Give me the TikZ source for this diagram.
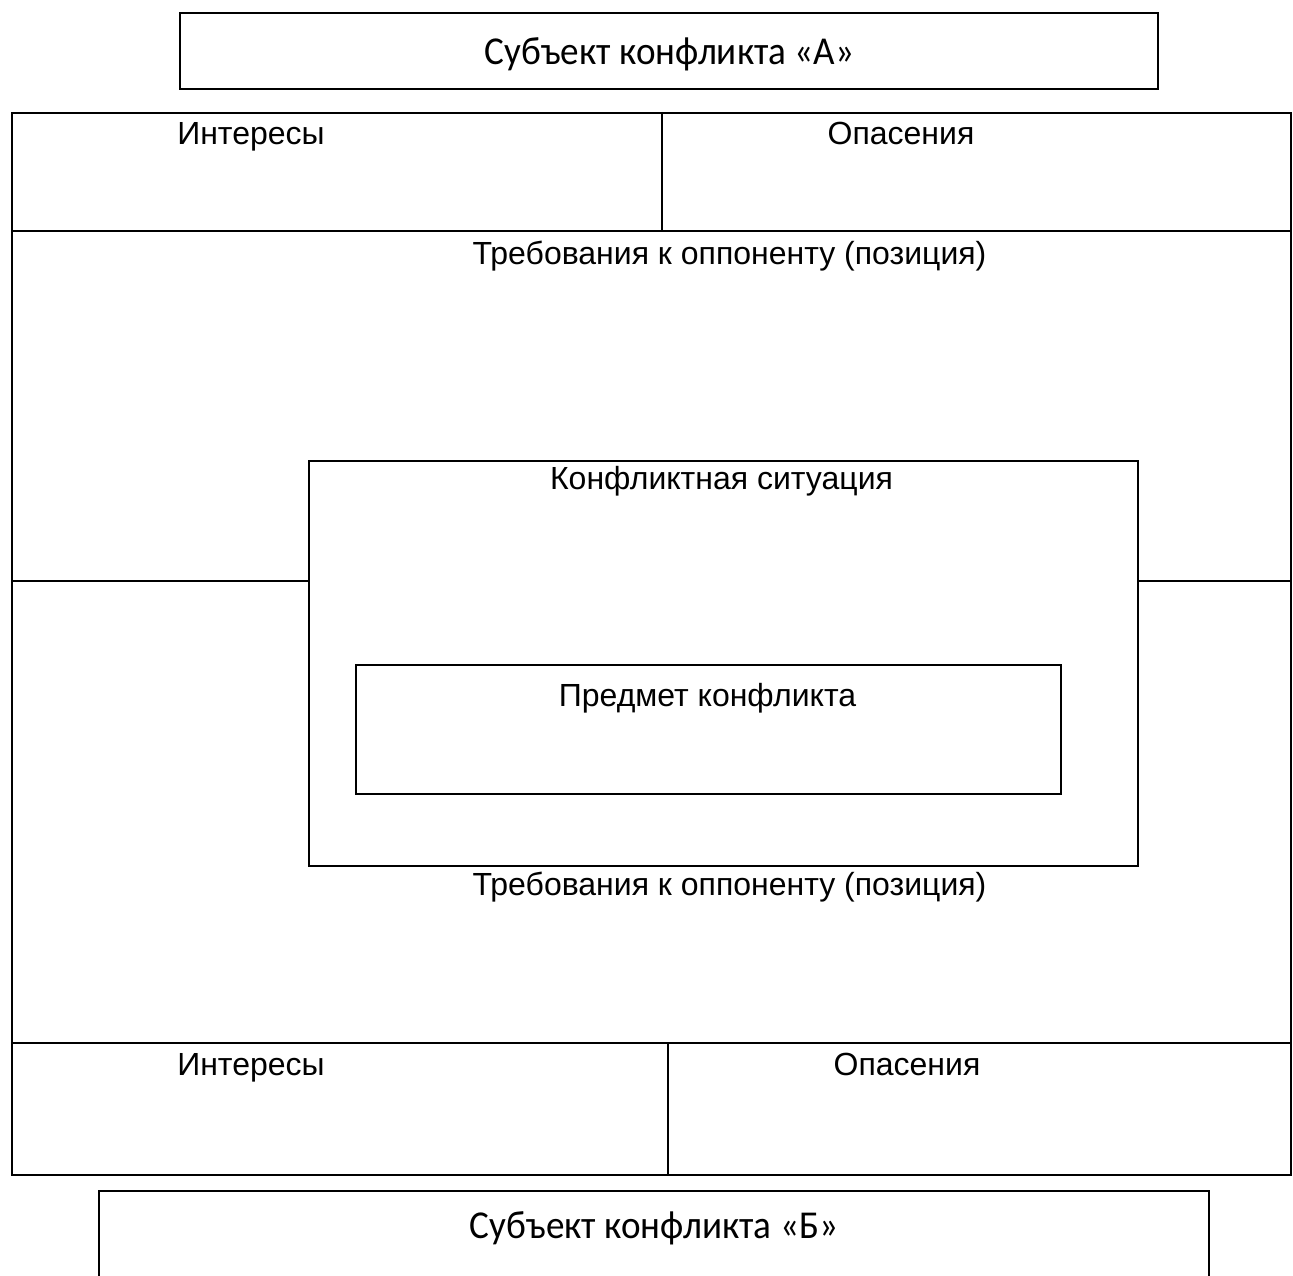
\documentclass[tikz,border=0pt]{standalone}
\usepackage{fontspec}
\setmainfont{Liberation Sans}
\newfontfamily\calib{Carlito}
\begin{document}
\begin{tikzpicture}[x=1pt,y=-1pt,
  frame/.style={line width=2.2pt},
  thinbox/.style={draw, line width=1.7pt, inner sep=0pt, anchor=north west},
  thickbox/.style={draw, line width=2.2pt, inner sep=0pt, anchor=north west},
  lab/.style={font=\fontsize{32}{38}\selectfont, anchor=base, inner sep=0pt},
  clab/.style={font=\calib\fontsize{39.5}{46}\selectfont, anchor=base, inner sep=0pt, xscale=0.94, transform shape}]
\clip (0,0) rectangle (1293,1276);
\fill[white] (0,0) rectangle (1293,1276);
% subject A
\node[thinbox, minimum width=978pt, minimum height=76pt] (subjA) at (179,12) {};
\node[clab] (subjAt) at (669.5,65) {Субъект конфликта «А»};
% main table
\node[thickbox, minimum width=1279pt, minimum height=1062pt] (tbl) at (11,112) {};
\coordinate (r1l) at (11,231);
\coordinate (r1r) at (1290,231);
\coordinate (d1t) at (662,112);
\coordinate (d1b) at (662,231);
\coordinate (mlL) at (11,581);
\coordinate (mlR) at (1290,581);
\coordinate (r2l) at (11,1043);
\coordinate (r2r) at (1290,1043);
\coordinate (d2t) at (668,1043);
\coordinate (d2b) at (668,1174);
\draw[frame] (r1l) -- (r1r);
\draw[line width=1.6pt] (d1t) -- (d1b);
\draw[frame] (r2l) -- (r2r);
\draw[line width=1.6pt] (d2t) -- (d2b);
% conflict situation
\node[thickbox, minimum width=829pt, minimum height=405pt] (sit) at (308,460) {};
\draw[frame] (mlL) -- (sit.west |- mlL);
\draw[frame] (sit.east |- mlR) -- (mlR);
% subject of conflict
\node[thinbox, minimum width=705pt, minimum height=129pt] (subj) at (355,664) {};
% subject B (cut at bottom edge)
\coordinate (bL) at (99,1300);
\coordinate (bTL) at (99,1191);
\coordinate (bTR) at (1209,1191);
\coordinate (bR) at (1209,1300);
\draw[line width=1.7pt] (bL) -- (bTL) -- (bTR) -- (bR);
% labels
\node[lab] (intA) at (251,145) {Интересы};
\node[lab] (opA) at (901,145) {Опасения};
\node[lab] (trA) at (729.5,264) {Требования к оппоненту (позиция)};
\node[lab] (sitt) at (721.5,489) {Конфликтная ситуация};
\node[lab] (subjt) at (707.5,706) {Предмет конфликта};
\node[lab] (trB) at (729.5,895) {Требования к оппоненту (позиция)};
\node[lab] (intB) at (251,1075) {Интересы};
\node[lab] (opB) at (907,1075) {Опасения};
\node[clab] (subjBt) at (654,1238) {Субъект конфликта «Б»};
\end{tikzpicture}
\end{document}
